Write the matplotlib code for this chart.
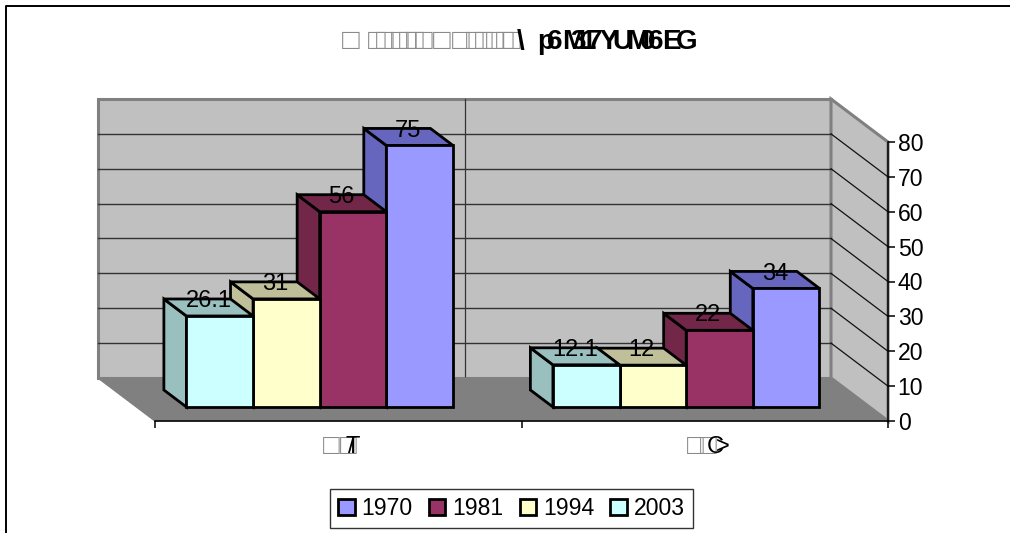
import matplotlib
matplotlib.use("Agg")
import matplotlib.pyplot as plt
from matplotlib.patches import Polygon, Patch

plt.rcParams['font.family'] = ['Liberation Sans', 'DejaVu Sans']

W, H = 1010, 533

# data
years = ['1970', '1981', '1994', '2003']
colors = ['#9999FF', '#993366', '#FFFFCC', '#CCFFFF']
side_colors = ['#6666BF', '#722648', '#BFBF99', '#99BFBF']
group_t = [75, 56, 31, 26.1]
group_c = [34, 22, 12, 12.1]
groups = [group_t, group_c]
yticks = [0, 10, 20, 30, 40, 50, 60, 70, 80]

# garbled text as it shows in the picture, with left edge in pixels
title_boxes = [342, 368, 376, 391, 399, 406, 415, 433, 452, 466, 475, 486, 496, 503]
title_glyphs = list('\\p6M317YUM06EG')
title_x = [517, 537, 547, 562, 570, 580, 587, 600, 612, 626, 640, 648, 662, 676]
label_boxes = [[323, 340], [687, 700]]
label_glyphs = [['T', '/'], ['C', '>']]
label_x = [[345, 348], [707, 716]]

# oblique projection of the 3D box
DX = 57 / 366.5
DY = 43 / 3.4875
BAR_W = 1 / 5.5
D_FRONT = 14 / 43
D_BACK = 31 / 43


def proj(x, v, d):
    return (x - DX * d, v + DY * d)


def poly(ax, pts, fc, ec='none', lw=0, z=1):
    ax.add_patch(Polygon(pts, closed=True, facecolor=fc, edgecolor=ec, linewidth=lw,
                         clip_on=False, zorder=z, joinstyle='miter'))


def put(x, y, s, **kw):
    kw.setdefault('ha', 'left')
    kw.setdefault('va', 'center')
    fig.text(x / W, 1 - y / H, s, **kw)


fig = plt.figure(figsize=(W / 100, H / 100), dpi=100)
ax = fig.add_axes([155 / W, 1 - 421 / H, 733 / W, 279 / H])
ax.patch.set_visible(False)
ax.set_xlim(0, 2)
ax.set_ylim(0, 80)

# walls and floor
poly(ax, [proj(0, 0, 1), proj(2, 0, 1), proj(2, 80, 1), proj(0, 80, 1)], '#C0C0C0', '#808080', 2.2)
poly(ax, [proj(2, 0, 1), proj(2, 0, 0), proj(2, 80, 0), proj(2, 80, 1)], '#C0C0C0', '#808080', 2.2)
poly(ax, [proj(0, 0, 0), proj(2, 0, 0), proj(2, 0, 1), proj(0, 0, 1)], '#808080', '#808080', 1, z=1.5)

for t in yticks[1:-1]:
    a, b, c = proj(0, t, 1), proj(2, t, 1), proj(2, t, 0)
    ax.plot([a[0], b[0]], [a[1], b[1]], color='#333333', lw=1, zorder=1.2, clip_on=False)
    ax.plot([b[0], c[0]], [b[1], c[1]], color='#111111', lw=0.9, zorder=1.2, clip_on=False)
a, b = proj(1, 0, 1), proj(1, 80, 1)
ax.plot([a[0], b[0]], [a[1], b[1]], color='#333333', lw=0.9, zorder=1.2, clip_on=False)

# bars: the left ones sit in front of the side faces of the right ones
for g, vals in enumerate(groups):
    for i in range(4):
        x0 = g + 0.5 - 2 * BAR_W + (3 - i) * BAR_W
        x1 = x0 + BAR_W
        v = vals[i]
        z = 2 + i * 0.1
        edge = dict(ec='black', lw=2, z=z)
        poly(ax, [proj(x0, 0, D_BACK), proj(x0, 0, D_FRONT), proj(x0, v, D_FRONT), proj(x0, v, D_BACK)],
             side_colors[i], **edge)
        poly(ax, [proj(x0, v, D_BACK), proj(x0, v, D_FRONT), proj(x1, v, D_FRONT), proj(x1, v, D_BACK)],
             side_colors[i], **edge)
        poly(ax, [proj(x0, 0, D_FRONT), proj(x1, 0, D_FRONT), proj(x1, v, D_FRONT), proj(x0, v, D_FRONT)],
             colors[i], **edge)
        lx = proj((x0 + x1) / 2, 0, (D_FRONT + D_BACK) / 2)[0]
        ly = proj(0, v, D_BACK)[1]
        ax.annotate(str(v), (lx, ly), xytext=(0, -1.5), textcoords='offset points',
                    ha='center', va='center', fontsize=17, zorder=4, annotation_clip=False)

# axes
for s in ['left', 'top']:
    ax.spines[s].set_visible(False)
for s in ['right', 'bottom']:
    ax.spines[s].set_color('black')
    ax.spines[s].set_linewidth(1.1)
    ax.spines[s].set_zorder(5)
ax.yaxis.tick_right()
ax.set_yticks(yticks)
ax.set_yticklabels([str(t) for t in yticks], fontsize=16.6)
ax.set_xticks([0, 1, 2])
ax.set_xticklabels([])
ax.tick_params(axis='both', length=5, width=1.1, color='black')
ax.tick_params(axis='y', pad=2)

# title and category labels
for x in title_boxes:
    put(x, 41, '\u25a1', fontsize=21, color='#8a8a8a')
for x, s in zip(title_x, title_glyphs):
    put(x, 42, s, fontsize=20, fontweight='bold')
for boxes, glyphs, xs in zip(label_boxes, label_glyphs, label_x):
    for x in boxes:
        put(x, 447, '\u25a1', fontsize=20, color='#8a8a8a')
    for x, s in zip(xs, glyphs):
        put(x, 447, s, fontsize=17)

# legend
handles = [Patch(facecolor=c, edgecolor='black', linewidth=2) for c in colors]
fig.legend(handles, years, ncol=4, fontsize=16.6, frameon=True, fancybox=False, framealpha=1,
           edgecolor='#333333', loc='center', bbox_to_anchor=(511.5 / W, 1 - 508.5 / H),
           handlelength=0.72, handleheight=0.72, handletextpad=0.3, columnspacing=0.7,
           borderpad=0.35, borderaxespad=0)

# outer chart border: left and top only, runs off the image
fig.add_artist(plt.Line2D([5.8 / W, 5.8 / W, 1], [0, 1 - 5.5 / H, 1 - 5.5 / H],
                          color='black', lw=1.4))

fig.savefig('out.png', dpi=100)
